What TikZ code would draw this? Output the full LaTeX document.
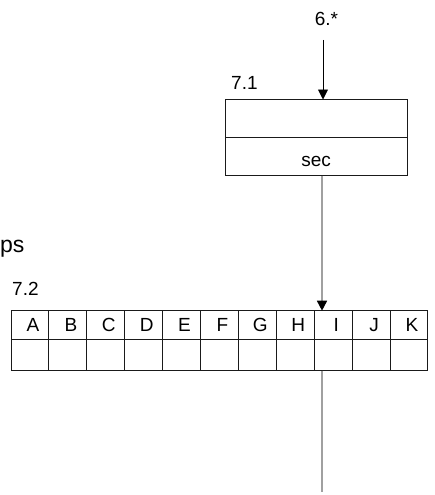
\documentclass[tikz,border=0pt]{standalone}
\usepackage{fontspec}
\setmainfont{Liberation Sans}
\usepackage{tikz}
\usetikzlibrary{positioning,arrows.meta,calc}
\definecolor{ink}  {HTML}{1A1A1A}
\definecolor{wire} {HTML}{A0A0A0}

\begin{document}
\begin{tikzpicture}[
  x=1pt, y=-1pt,
  font=\fontsize{19}{22}\selectfont,
  rowbox/.style={draw=ink, line width=0.9pt, minimum width=182pt, minimum height=38pt,
                 inner sep=0pt, outer sep=0pt},
  cell/.style={draw=ink, line width=0.9pt, minimum width=37.9pt, inner sep=0pt, outer sep=0pt},
  tag/.style={anchor=base west, inner sep=0pt},
  feed/.style={draw=black, line width=0.9pt, -{Triangle[length=10pt, width=10pt]}},
  wireline/.style={draw=wire, line width=1.6pt},
  wirearrow/.style={wireline, -{Triangle[length=10pt, width=10pt, color=black]}}
]
\useasboundingbox (0,0) rectangle (434,495);

% box 7.1
\node[rowbox] (boxtop) at (316.2,118.5) {};
\node[rowbox, below=0pt of boxtop] (boxsec) {};
\node[anchor=base, inner sep=0pt] (sectxt) at (316.2,166.5) {sec};
\node[tag] (lbl71) at (231,89) {7.1};
\node[anchor=base, inner sep=0pt] (lbl6) at (326.5,26) {6.*};
\coordinate (src) at (323,40);

% table 7.2
\foreach \l [count=\i] in {A,B,C,D,E,F,G,H,I,J,K} {
  \node[cell, minimum height=28.6pt] (h\l) at ({11+37.9*(\i-0.5)},325) {\hspace*{6pt}\l};
  \node[cell, minimum height=31.4pt, below=0pt of h\l] (v\l) {};
}
\node[tag] (lbl72) at (12,295) {7.2};
\node[tag, font=\fontsize{23}{27}\selectfont] (lblps) at (0,252) {ps};
\coordinate (sink) at (322,492);

% connectors
\draw[feed] (src) -- (src |- boxtop.north);
\draw[wirearrow] (sink |- boxsec.south) -- (sink |- hI.north);
\draw[wireline] (sink |- vI.south) -- (sink);
\end{tikzpicture}
\end{document}
